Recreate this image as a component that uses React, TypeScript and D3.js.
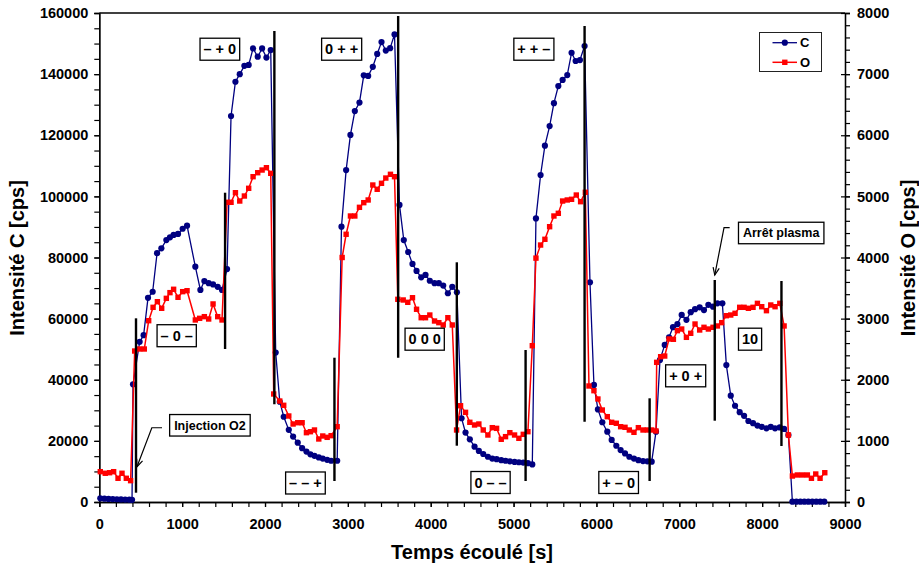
import React, { useEffect, useRef } from 'react';
import * as d3 from 'd3';

// ---------- data ----------
const cTimes = [12, 62, 112, 162, 212, 262, 312, 362, 395,
  407, 487, 535, 588, 644, 697, 749, 809, 853, 897, 950, 1006, 1059,
  1159, 1220, 1268, 1320, 1373, 1429, 1481, 1542,
  1590, 1643, 1695, 1751, 1803, 1856, 1912, 1965, 2017, 2069,
  2129, 2178, 2226, 2287, 2339, 2395, 2448, 2500, 2548, 2597, 2649, 2697, 2750, 2798, 2871,
  2923, 2979, 3031, 3084, 3140, 3192, 3245, 3301, 3354, 3406, 3458, 3510, 3563,
  3623, 3675, 3728, 3780, 3829, 3885, 3937, 3989, 4046, 4098, 4151, 4207, 4260, 4316,
  4372, 4420, 4472, 4529, 4581, 4634, 4690, 4743, 4795, 4851, 4903, 4955, 5012, 5064, 5117, 5173, 5226,
  5270, 5326, 5378, 5435, 5487, 5540, 5592, 5648, 5700, 5749, 5801, 5857,
  5922, 5970, 6018, 6071, 6131, 6184, 6240, 6292, 6345, 6397, 6453, 6506, 6562, 6615, 6667,
  6719, 6767, 6824, 6876, 6924, 6977, 7029, 7086, 7138, 7190, 7246, 7298, 7351, 7407, 7460, 7520,
  7568, 7621, 7673, 7729, 7782, 7834, 7890, 7943, 7995, 8052, 8104, 8156, 8213, 8265, 8317,
  8365, 8413, 8461, 8509, 8557, 8605, 8653, 8701, 8750];

const cValues = [1200, 1100, 1000, 950, 900, 850, 800, 750, 700,
  38500, 52400, 54600, 66800, 68800, 81400, 83000, 85700, 86600, 87400, 87700, 89400, 90400,
  77000, 69400, 72300, 71600, 71200, 70400, 69400, 76200,
  126300, 137500, 140000, 142700, 143000, 148400, 145700, 148400, 145400, 147900,
  48900, 32800, 27900, 23600, 21400, 19400, 17600, 16500, 15600, 15100, 14600, 14200, 13800, 13500, 13500,
  90100, 108600, 120100, 127900, 130700, 139600, 139400, 142400, 146600, 150500, 147700, 148500, 153000,
  97200, 85700, 81800, 77900, 75600, 73500, 74300, 72400, 71600, 71600, 70800, 68300, 70400, 68600,
  27400, 22700, 20500, 18100, 16700, 15700, 14800, 14200, 14000, 13700, 13500, 13300, 13100, 13000, 12900, 12700, 12300,
  92800, 107000, 116600, 123000, 130500, 136100, 138100, 139700, 147000, 144300, 144600, 149200,
  71900, 38300, 30300, 26100, 23000, 20300, 18400, 17000, 15900, 14800, 14200, 13700, 13400, 13300, 13200,
  23000, 46500, 51400, 53900, 57200, 58200, 61200, 59600, 62100, 63100, 63700, 62800, 64500, 63900, 65000, 65000,
  44800, 34800, 31500, 29400, 28200, 26500, 25800, 25000, 24600, 24100, 24600, 24100, 24400, 23900, 21900,
  100, 100, 100, 100, 100, 100, 100, 100, 100];

const oTimes = [12, 72, 124, 173, 226, 274, 326, 378,
  427, 487, 543, 596, 649, 701, 753, 809, 853, 897, 950, 1006, 1059,
  1159, 1211, 1268, 1320, 1373, 1429, 1481,
  1542, 1590, 1643, 1695, 1751, 1803, 1856, 1912, 1965, 2017, 2069,
  2105, 2178, 2226, 2287, 2339, 2395, 2448, 2500, 2548, 2597, 2649, 2697, 2750, 2798, 2871,
  2931, 2979, 3031, 3084, 3140, 3192, 3245, 3301, 3354, 3406, 3458, 3514, 3563,
  3603, 3668, 3723, 3780, 3829, 3885, 3937, 3989, 4046, 4098, 4151, 4207, 4260,
  4312, 4360, 4420, 4472, 4529, 4581, 4634, 4690, 4743, 4795, 4851, 4903, 4955, 5012, 5064, 5117, 5173,
  5226, 5270, 5326, 5378, 5435, 5487, 5540, 5592, 5648, 5700, 5757, 5809, 5866,
  5910, 5970, 6018, 6071, 6131, 6184, 6240, 6292, 6345, 6397, 6453, 6506, 6562, 6615, 6667, 6719,
  6727, 6775, 6824, 6876, 6929, 6977, 7029, 7086, 7138, 7190, 7246, 7298, 7351, 7407, 7460, 7512, 7568, 7621, 7673, 7729,
  7782, 7834, 7890, 7943, 7995, 8052, 8104, 8156, 8213, 8265,
  8317, 8365, 8425, 8486, 8546, 8595, 8647, 8699, 8756];

const oValues = [496, 470, 479, 496, 388, 470, 388, 349,
  2470, 2503, 2503, 2966, 3185, 3277, 3169, 3332, 3425, 3480, 3349, 3441, 3457,
  2978, 3005, 3032, 2994, 3240, 3032, 2978,
  4903, 4903, 5060, 4924, 5006, 5132, 5322, 5387, 5431, 5469, 5377,
  1767, 1652, 1582, 1407, 1276, 1297, 1297, 1134, 1150, 1178, 1031, 1080, 1058, 1085, 1232,
  4000, 4380, 4679, 4679, 4821, 4897, 4941, 5186, 5116, 5214, 5300, 5361, 5322,
  3316, 3305, 3267, 3342, 3153, 3015, 3015, 3059, 2961, 2934, 2896, 3015, 2896,
  1178, 1575, 1467, 1304, 1260, 1276, 1178, 1096, 1216, 1205, 1026, 1069, 1134, 1096, 1042, 1107, 1150,
  2557, 3990, 4204, 4298, 4504, 4679, 4723, 4924, 4941, 4952, 5022, 4913, 5067,
  1898, 1821, 1685, 1505, 1396, 1304, 1288, 1232, 1222, 1178, 1140, 1216, 1178, 1178, 1178, 1162,
  2285, 2377, 2388, 2667, 2662, 2803, 2830, 2694, 2760, 2912, 2814, 2858, 2830, 2858, 2880, 2934, 3048, 3059, 3087, 3185,
  3185, 3169, 3185, 3250, 3195, 3130, 3223, 3195, 3250, 2880,
  1096, 425, 442, 442, 442, 388, 458, 388, 479];

const xTicks = [0, 1000, 2000, 3000, 4000, 5000, 6000, 7000, 8000, 9000];
const leftTicks = [0, 20000, 40000, 60000, 80000, 100000, 120000, 140000, 160000];
const rightTicks = [0, 1000, 2000, 3000, 4000, 5000, 6000, 7000, 8000];

// vertical separators (time, C range)
const sepTimes = [443, 1518, 2113, 2838, 3607, 4315, 5145, 5857, 6642, 7428, 8233];
const sepLow = [3040, 50060, 31970, 6870, 47210, 18420, 6870, 26270, 6870, 26600, 18320];
const sepHigh = [60100, 101200, 154100, 47210, 159020, 78430, 49730, 155740, 33930, 72640, 72310];

// condition labels
const condTexts = ['– + 0', '0 + +', '+ + –', '– 0 –', '– – +', '0 0 0', '0 – –', '+ – 0', '+ 0 +', '10'];
const condTimes = [1455, 2925, 5245, 934, 2488, 3927, 4722, 6268, 7077, 7854];
const condValues = [148150, 148150, 148150, 54410, 6220, 53270, 6380, 6380, 41290, 53270];

// callouts with arrows
const noteTexts = ['Injection O2', 'Arrêt plasma'];
const noteTimes = [1335, 8230];
const noteValues = [25100, 88020];
const noteStartTimes = [757, 7608];
const noteCornerTimes = [634, 7540];
const noteLeaderValues = [24300, 89750];
const noteTipTimes = [455, 7428];
const noteTipValues = [11550, 74270];

const seriesNames = ['C', 'O'];
const seriesColors = ['#000080', '#ff0000'];

const FONT = "'Liberation Sans', Arial, Helvetica, sans-serif";

export default function App() {
  const ref = useRef<SVGSVGElement>(null);

  useEffect(() => {
    const svg = d3.select(ref.current);
    svg.selectAll('*').remove();

    const x = d3.scaleLinear().domain([0, 9000]).range([99.3, 845]);
    const yC = d3.scaleLinear().domain([0, 160000]).range([502, 13]);
    const yO = d3.scaleLinear().domain([0, 8000]).range([502, 13]);

    svg.append('rect').attr('width', 919).attr('height', 569).attr('fill', '#fff');

    // ---- axes ----
    const styleAxis = (g: any) => {
      g.attr('font-family', FONT).attr('font-size', 14.5).attr('font-weight', 'bold');
      g.selectAll('.domain').attr('stroke', '#000').attr('stroke-width', 1.3);
      g.selectAll('.tick line').attr('stroke', '#000').attr('stroke-width', 1.2);
      g.selectAll('.tick text').attr('fill', '#000');
    };

    const minorLeft = d3.range(0, 160001, 5000);
    const minorRight = d3.range(0, 8001, 200);
    const minorX = d3.range(0, 9001, 200);

    // left
    svg.append('g').attr('transform', 'translate(99.3,0)')
      .call(d3.axisLeft(yC).tickValues(minorLeft).tickSize(5).tickFormat(() => '') as any)
      .call(styleAxis);
    svg.append('g').attr('transform', 'translate(99.3,0)')
      .call(d3.axisLeft(yC).tickValues(leftTicks).tickSize(5).tickSizeOuter(0).tickPadding(6)
        .tickFormat(d3.format('d')) as any)
      .call(styleAxis);

    // right
    svg.append('g').attr('transform', 'translate(845,0)')
      .call(d3.axisRight(yO).tickValues(minorRight).tickSize(5).tickFormat(() => '') as any)
      .call(styleAxis);
    const rg = svg.append('g').attr('transform', 'translate(845,0)')
      .call(d3.axisRight(yO).tickValues(rightTicks).tickSize(5).tickSizeOuter(0).tickPadding(7)
        .tickFormat(d3.format('d')) as any)
      .call(styleAxis);
    rg.selectAll('.tick line').attr('x1', -4);

    // bottom
    svg.append('g').attr('transform', 'translate(0,502)')
      .call(d3.axisBottom(x).tickValues(minorX).tickSize(5).tickFormat(() => '') as any)
      .call(styleAxis);
    svg.append('g').attr('transform', 'translate(0,502)')
      .call(d3.axisBottom(x).tickValues(xTicks).tickSize(5).tickSizeOuter(0).tickPadding(12)
        .tickFormat(d3.format('d')) as any)
      .call(styleAxis);

    // top frame line
    svg.append('line').attr('x1', x(0)).attr('x2', x(9000)).attr('y1', yC(160000)).attr('y2', yC(160000))
      .attr('stroke', '#000').attr('stroke-width', 1.3);

    // axis titles
    const title = (tx: number, ty: number, rot: number, text: string) =>
      svg.append('text').attr('transform', `translate(${tx},${ty}) rotate(${rot})`)
        .attr('text-anchor', 'middle').attr('font-family', FONT).attr('font-weight', 'bold')
        .attr('font-size', 20).attr('fill', '#000').text(text);
    title(23.5, 258, -90, 'Intensité C [cps]');
    title(915, 258, -90, 'Intensité O [cps]');
    title(472, 558.5, 0, 'Temps écoulé [s]');

    // ---- series ----
    const cData = cTimes.map((t, i) => [t, cValues[i]] as [number, number]);
    const oData = oTimes.map((t, i) => [t, oValues[i]] as [number, number]);

    const lineC = d3.line<[number, number]>().x(d => x(d[0])).y(d => yC(d[1]));
    const lineO = d3.line<[number, number]>().x(d => x(d[0])).y(d => yO(d[1]));

    svg.append('path').attr('d', lineC(cData)!).attr('fill', 'none')
      .attr('stroke', seriesColors[0]).attr('stroke-width', 1.3);
    svg.append('g').selectAll('circle').data(cData).join('circle')
      .attr('cx', d => x(d[0])).attr('cy', d => yC(d[1])).attr('r', 3.1).attr('fill', seriesColors[0]);

    svg.append('path').attr('d', lineO(oData)!).attr('fill', 'none')
      .attr('stroke', seriesColors[1]).attr('stroke-width', 1.5);
    const sq = 5.4;
    svg.append('g').selectAll('rect').data(oData).join('rect')
      .attr('x', d => x(d[0]) - sq / 2).attr('y', d => yO(d[1]) - sq / 2)
      .attr('width', sq).attr('height', sq).attr('fill', seriesColors[1]);

    // ---- separators ----
    svg.append('g').selectAll('line').data(sepTimes).join('line')
      .attr('x1', d => x(d)).attr('x2', d => x(d))
      .attr('y1', (d, i) => yC(sepLow[i])).attr('y2', (d, i) => yC(sepHigh[i]))
      .attr('stroke', '#000').attr('stroke-width', 2.4);

    // ---- label boxes ----
    const boxLabel = (t: number, v: number, text: string, size: number, padX: number, h: number) => {
      const g = svg.append('g');
      const rect = g.append('rect');
      const tx = g.append('text').attr('x', x(t)).attr('y', yC(v)).attr('dy', '0.36em')
        .attr('text-anchor', 'middle').attr('font-family', FONT).attr('font-weight', 'bold')
        .attr('font-size', size).attr('fill', '#000').text(text);
      const w = (tx.node() as SVGTextElement).getComputedTextLength();
      rect.attr('x', x(t) - w / 2 - padX).attr('y', yC(v) - h / 2).attr('width', w + 2 * padX)
        .attr('height', h).attr('fill', '#fff').attr('stroke', '#000').attr('stroke-width', 1.3);
    };
    condTexts.forEach((s, i) => boxLabel(condTimes[i], condValues[i], s, 14.5, 3.5, 22));

    // ---- callouts ----
    noteTexts.forEach((s, i) => {
      const pts: [number, number][] = [
        [x(noteStartTimes[i]), yC(noteLeaderValues[i])],
        [x(noteCornerTimes[i]), yC(noteLeaderValues[i])],
        [x(noteTipTimes[i]), yC(noteTipValues[i])],
      ];
      svg.append('path').attr('d', d3.line()(pts)!).attr('fill', 'none')
        .attr('stroke', '#000').attr('stroke-width', 1.2);
      const [ax, ay] = pts[1];
      const [bx, by] = pts[2];
      const ang = Math.atan2(by - ay, bx - ax);
      const L = 8;
      const a1 = ang + Math.PI - 0.4;
      const a2 = ang + Math.PI + 0.4;
      svg.append('path')
        .attr('d', `M${bx + L * Math.cos(a1)},${by + L * Math.sin(a1)} L${bx},${by} L${bx + L * Math.cos(a2)},${by + L * Math.sin(a2)}`)
        .attr('fill', 'none').attr('stroke', '#000').attr('stroke-width', 1.2);
      boxLabel(noteTimes[i], noteValues[i], s, 12.5, 4.5, 21.5);
    });

    // ---- legend ----
    const lg = svg.append('g');
    lg.append('rect').attr('x', 759.5).attr('y', 32.5).attr('width', 62).attr('height', 39)
      .attr('fill', '#fff').attr('stroke', '#222').attr('stroke-width', 1);
    seriesNames.forEach((n, i) => {
      const ly = 42.7 + i * 19.6;
      lg.append('line').attr('x1', 772.5).attr('x2', 797).attr('y1', ly).attr('y2', ly)
        .attr('stroke', seriesColors[i]).attr('stroke-width', i === 0 ? 1.3 : 1.5);
      if (i === 0) {
        lg.append('circle').attr('cx', 784.8).attr('cy', ly).attr('r', 3.1).attr('fill', seriesColors[i]);
      } else {
        lg.append('rect').attr('x', 784.8 - sq / 2).attr('y', ly - sq / 2).attr('width', sq).attr('height', sq)
          .attr('fill', seriesColors[i]);
      }
      lg.append('text').attr('x', 800).attr('y', ly).attr('dy', '0.36em')
        .attr('font-family', FONT).attr('font-weight', 'bold').attr('font-size', 13).attr('fill', '#000').text(n);
    });
  }, []);

  return (
    <svg ref={ref} width={919} height={569}
      style={{ position: 'absolute', left: 0, top: 0, display: 'block' }} />
  );
}
